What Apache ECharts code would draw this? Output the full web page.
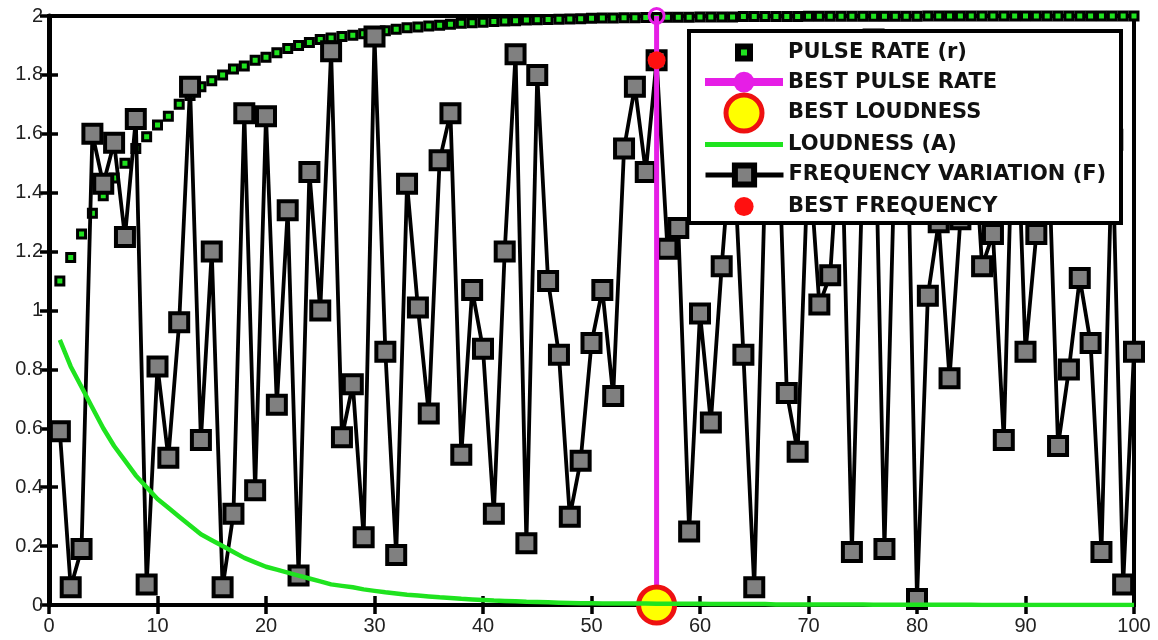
<!DOCTYPE html>
<html>
<head>
<meta charset="utf-8">
<script src="https://cdn.jsdelivr.net/npm/echarts@6/dist/echarts.min.js"></script>
<style>html,body{margin:0;padding:0;background:#fff}#c{width:1158px;height:640px}</style>
</head>
<body>
<div id="c"></div>
<script>
// ---- data ----
const xTicks = [0, 10, 20, 30, 40, 50, 60, 70, 80, 90, 100];
const yTicks = [0, 0.2, 0.4, 0.6, 0.8, 1, 1.2, 1.4, 1.6, 1.8, 2];

const pulseRate = [
  1.10, 1.18, 1.26, 1.33, 1.39, 1.45, 1.50, 1.55, 1.59, 1.63,
  1.66, 1.70, 1.73, 1.76, 1.78, 1.80, 1.82, 1.83, 1.85, 1.86,
  1.875, 1.89, 1.90, 1.91, 1.92, 1.925, 1.93, 1.935, 1.94, 1.945,
  1.95, 1.955, 1.96, 1.963, 1.966, 1.969, 1.972, 1.975, 1.977, 1.979,
  1.981, 1.983, 1.984, 1.986, 1.987, 1.988, 1.989, 1.990, 1.991, 1.992,
  1.993, 1.993, 1.994, 1.994, 1.995, 1.995, 1.996, 1.996, 1.996, 1.997,
  1.997, 1.997, 1.997, 1.998, 1.998, 1.998, 1.998, 1.998, 1.998, 1.999,
  1.999, 1.999, 1.999, 1.999, 1.999, 1.999, 1.999, 1.999, 1.999, 1.999,
  2.0, 2.0, 2.0, 2.0, 2.0, 2.0, 2.0, 2.0, 2.0, 2.0,
  2.0, 2.0, 2.0, 2.0, 2.0, 2.0, 2.0, 2.0, 2.0, 2.0
];

const loudness = [
  0.90, 0.81, 0.74, 0.67, 0.60, 0.54, 0.49, 0.44, 0.40, 0.36,
  0.33, 0.30, 0.27, 0.24, 0.22, 0.20, 0.18, 0.16, 0.145, 0.13,
  0.12, 0.11, 0.10, 0.09, 0.08, 0.07, 0.065, 0.06, 0.053, 0.048,
  0.043, 0.039, 0.035, 0.032, 0.029, 0.026, 0.024, 0.021, 0.019, 0.017,
  0.015, 0.014, 0.013, 0.011, 0.010, 0.009, 0.008, 0.007, 0.006, 0.006,
  0.005, 0.005, 0.005, 0.005, 0.005, 0.004, 0.004, 0.004, 0.004, 0.004,
  0.003, 0.003, 0.003, 0.003, 0.003, 0.003, 0.002, 0.002, 0.002, 0.002,
  0.002, 0.002, 0.002, 0.002, 0.002, 0.001, 0.001, 0.001, 0.001, 0.001,
  0.001, 0.001, 0.001, 0.001, 0.001, 0, 0, 0, 0, 0,
  0, 0, 0, 0, 0, 0, 0, 0, 0, 0
];

const frequency = [
  0.59, 0.06, 0.19, 1.60, 1.43, 1.57, 1.25, 1.65, 0.07, 0.81,
  0.50, 0.96, 1.76, 0.56, 1.20, 0.06, 0.31, 1.67, 0.39, 1.66,
  0.68, 1.34, 0.10, 1.47, 1.00, 1.88, 0.57, 0.75, 0.23, 1.93,
  0.86, 0.17, 1.43, 1.01, 0.65, 1.51, 1.67, 0.51, 1.07, 0.87,
  0.31, 1.20, 1.87, 0.21, 1.80, 1.10, 0.85, 0.30, 0.49, 0.89,
  1.07, 0.71, 1.55, 1.76, 1.47, 1.85, 1.21, 1.28, 0.25, 0.99,
  0.62, 1.15, 1.62, 0.85, 0.06, 1.45, 1.88, 0.72, 0.52, 1.55,
  1.02, 1.12, 1.70, 0.18, 1.50, 1.92, 0.19, 1.60, 1.85, 0.02,
  1.05, 1.30, 0.77, 1.31, 1.75, 1.15, 1.26, 0.56, 1.90, 0.86,
  1.26, 1.68, 0.54, 0.80, 1.11, 0.89, 0.18, 1.58, 0.07, 0.86
];

const bestIteration = 56;
const bestPulseRate = 2;
const bestLoudness = 0;
const bestFrequency = 1.85;

const NAMES = ['PULSE RATE (r)', 'BEST PULSE RATE', 'BEST LOUDNESS', 'LOUDNESS (A)',
               'FREQUENCY VARIATION (F)', 'BEST FREQUENCY'];

// ---- build ----
const iterations = frequency.map((_, i) => i + 1);
const pair = arr => arr.map((v, i) => [iterations[i], v]);

const GREEN = '#1fe31f';
const MAG = '#e61ee6';
const LABEL_FONT = { fontFamily: 'Liberation Sans, Arial, sans-serif', fontSize: 20, color: '#222' };
const tickStyle = { inside: true, length: 9, lineStyle: { color: '#000', width: 3.5 } };
const NOLINE = { opacity: 0, width: 0 };

const legendText = { fontFamily: 'DejaVu Sans, sans-serif', fontWeight: 'bold', fontSize: 21, color: '#111', lineHeight: 20 };
function lg(item, left, top, h) {
  return {
    data: [item], orient: 'vertical', left: left, top: top, itemWidth: 78, itemHeight: h,
    padding: 0, selectedMode: false, textStyle: legendText, z: 10
  };
}

const chart = echarts.init(document.getElementById('c'), null, { renderer: 'canvas' });
chart.setOption({
  animation: false,
  backgroundColor: '#fff',
  grid: { left: 49, right: 24, top: 16, bottom: 35, show: true, borderColor: '#000', borderWidth: 4, backgroundColor: 'transparent' },
  xAxis: [
    { type: 'value', position: 'bottom', min: xTicks[0], max: xTicks[xTicks.length - 1], interval: xTicks[1] - xTicks[0],
      axisLine: { show: false }, axisTick: tickStyle, splitLine: { show: false },
      axisLabel: Object.assign({ margin: 11 }, LABEL_FONT) },
    { type: 'value', position: 'top', min: xTicks[0], max: xTicks[xTicks.length - 1], interval: xTicks[1] - xTicks[0],
      axisLine: { show: false }, axisTick: tickStyle, splitLine: { show: false }, axisLabel: { show: false } }
  ],
  yAxis: [
    { type: 'value', position: 'left', min: yTicks[0], max: yTicks[yTicks.length - 1], interval: 0.2,
      axisLine: { show: true, lineStyle: { color: '#000', width: 5 } }, axisTick: tickStyle, splitLine: { show: false },
      axisLabel: Object.assign({ margin: 6 }, LABEL_FONT) },
    { type: 'value', position: 'right', min: yTicks[0], max: yTicks[yTicks.length - 1], interval: 0.2,
      axisLine: { show: false }, axisTick: tickStyle, splitLine: { show: false }, axisLabel: { show: false } }
  ],
  graphic: [{
    type: 'rect', z: 9, silent: true,
    shape: { x: 689, y: 31, width: 432, height: 192 },
    style: { fill: '#fff', stroke: '#000', lineWidth: 4 }
  }],
  legend: [
    lg({ name: NAMES[0], itemStyle: { borderWidth: 6, borderColor: '#000', color: GREEN }, lineStyle: NOLINE }, 705, 42, 15),
    lg({ name: NAMES[1], itemStyle: { color: MAG, borderWidth: 0 }, lineStyle: { width: 8, color: MAG } }, 701, 71.6, 26),
    lg({ name: NAMES[2], itemStyle: { borderWidth: 5, borderColor: '#ee1111', color: '#ffff00' }, lineStyle: NOLINE }, 705, 92.5, 45),
    lg({ name: NAMES[3], icon: 'path://M0 0H78V5H0Z', itemStyle: { color: GREEN, borderWidth: 0 } }, 705, 134, 20),
    lg({ name: NAMES[4], itemStyle: { borderWidth: 6 }, lineStyle: { width: 5 } }, 703, 162.4, 24),
    lg({ name: NAMES[5], itemStyle: { color: '#ff1010', borderWidth: 0 }, lineStyle: NOLINE }, 705, 196, 24)
  ],
  series: [
    { name: NAMES[0], type: 'line', data: pair(pulseRate), symbol: 'rect', symbolSize: 8, showAllSymbol: true, z: 2,
      lineStyle: NOLINE,
      itemStyle: { color: GREEN, borderColor: '#000', borderWidth: 3 } },
    { name: NAMES[1], type: 'line', data: [[bestIteration, 0], [bestIteration, bestPulseRate]], z: 4,
      symbol: 'circle', symbolSize: (v, p) => (p.dataIndex === 1 ? 15 : 0),
      lineStyle: { color: MAG, width: 5 },
      itemStyle: { color: 'rgba(0,0,0,0)', borderColor: MAG, borderWidth: 3 } },
    { name: NAMES[2], type: 'line', data: [[bestIteration, bestLoudness]], symbol: 'circle', symbolSize: 36, z: 5,
      lineStyle: NOLINE,
      itemStyle: { color: '#ffff00', borderColor: '#ee1111', borderWidth: 5 } },
    { name: NAMES[3], type: 'line', data: pair(loudness), symbol: 'none', showSymbol: false, z: 6,
      itemStyle: { color: GREEN }, lineStyle: { color: GREEN, width: 4.5 } },
    { name: NAMES[4], type: 'line', data: pair(frequency), symbol: 'rect', symbolSize: 18, showAllSymbol: true, z: 3,
      itemStyle: { color: '#808080', borderColor: '#000', borderWidth: 4 },
      lineStyle: { color: '#000', width: 3.8 } },
    { name: NAMES[5], type: 'line', data: [[bestIteration, bestFrequency]], symbol: 'circle', symbolSize: 18, z: 7,
      lineStyle: NOLINE,
      itemStyle: { color: '#ff1010' } }
  ]
});
</script>
</body>
</html>
